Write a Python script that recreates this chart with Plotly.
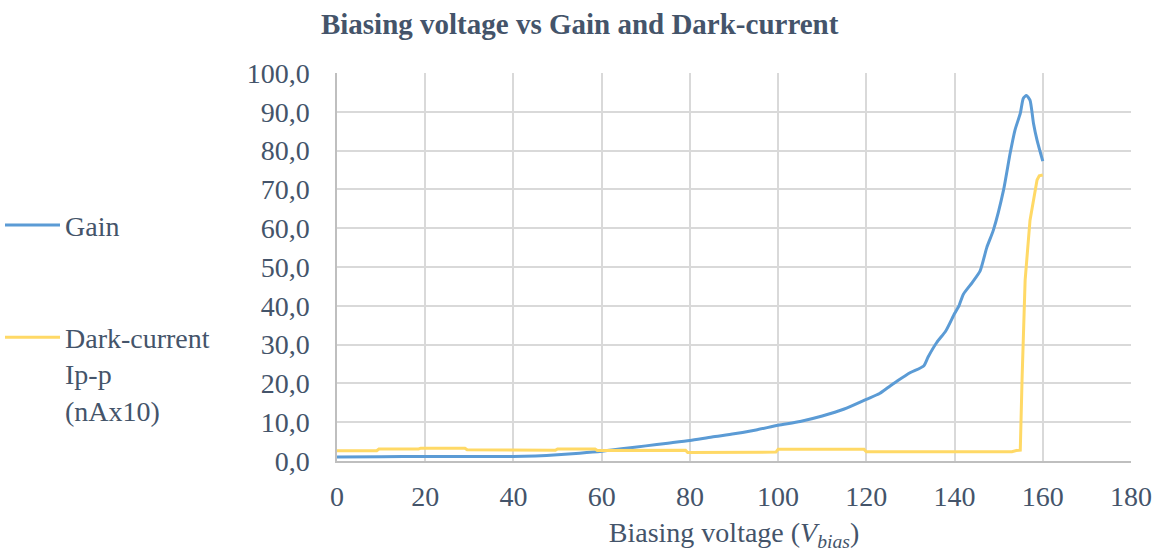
import plotly.graph_objects as go

gain_x = [0, 10, 20, 30, 40, 45, 50, 55, 60, 65, 70, 75, 80, 85, 90, 95, 100, 105, 110, 115, 120,
          123, 125, 127, 130, 133, 134, 136, 138, 140, 141, 142, 144, 145.8, 147.3, 148.8, 151.1,
          152.6, 153.7, 154.9, 155.6, 156.3, 157.1, 157.9, 158.7, 160]
gain_y = [1.0, 1.1, 1.15, 1.15, 1.15, 1.3, 1.6, 2.0, 2.5, 3.2, 3.9, 4.6, 5.3, 6.2, 7.0, 8.0, 9.2, 10.2,
          11.6, 13.4, 15.9, 17.4, 19.0, 20.6, 22.8, 24.5, 26.8, 30.6, 33.5, 38.0, 40.0, 43.0, 46.0,
          49.0, 55.0, 59.5, 69.8, 79.3, 85.3, 89.6, 93.5, 94.2, 93.0, 87.0, 82.7, 77.3]

dark_x = [0, 9, 9.5, 18.5, 19, 29, 29.5, 39, 39.5, 49.5, 50, 58.5, 59, 69, 69.5, 79, 79.5, 89.5, 90,
          99.5, 100, 119.5, 120, 153, 154, 154.9, 155.3, 156, 157.1, 158.7, 159.2, 160]
dark_y = [2.65, 2.65, 3.1, 3.1, 3.3, 3.3, 2.9, 2.9, 2.75, 2.75, 3.1, 3.1, 2.7, 2.7, 2.8, 2.8, 2.2, 2.2,
          2.3, 2.3, 3.0, 3.0, 2.4, 2.4, 2.7, 2.8, 20.9, 46.6, 62.0, 72.4, 73.5, 73.7]

font_family = "Liberation Serif"
text_color = "#44546A"
fs = 28

fig = go.Figure()
fig.add_trace(go.Scatter(x=gain_x, y=gain_y, mode="lines", name="Gain",
                         line=dict(color="#5B9BD5", width=3, shape="spline", smoothing=0.6),
                         legend="legend", showlegend=True))
fig.add_trace(go.Scatter(x=dark_x, y=dark_y, mode="lines", name="Dark-current<br>Ip-p<br>(nAx10)",
                         line=dict(color="#FFD966", width=3), legend="legend2", showlegend=True))

legend_common = dict(xref="container", yref="container", x=0.0, xanchor="left",
                     bgcolor="rgba(0,0,0,0)", itemwidth=55,
                     font=dict(family=font_family, size=fs, color=text_color), valign="top")

fig.update_layout(
    width=1157, height=552,
    showlegend=True,
    paper_bgcolor="white", plot_bgcolor="white",
    separators=",.",
    margin=dict(l=337, r=26, t=73, b=91),
    font=dict(family=font_family, size=fs, color=text_color),
    title=dict(text="<b>Biasing voltage vs Gain and Dark-current</b>", xref="container", x=0.501,
               xanchor="center", yref="container", y=0.957, yanchor="middle",
               font=dict(family=font_family, size=29, color=text_color)),
    legend=dict(**legend_common, y=0.592, yanchor="middle"),
    legend2=dict(**legend_common, y=0.434, yanchor="top"),
    xaxis=dict(range=[0, 180], dtick=20, tick0=0, showgrid=True, gridcolor="#D9D9D9", gridwidth=1.5,
               showline=True, linecolor="#BFBFBF", linewidth=1.5, zeroline=False, automargin=False,
               ticks="outside", ticklen=10, tickcolor="rgba(0,0,0,0)", ticklabeloverflow="allow",
               tickfont=dict(size=fs, color=text_color),
               title=dict(text="Biasing voltage (<i>V</i><sub><i>bias</i></sub>)",
                          font=dict(size=fs, color=text_color), standoff=14)),
    yaxis=dict(range=[0, 100], dtick=10, tick0=0, tickformat=".1f", showgrid=True,
               gridcolor="#D9D9D9", gridwidth=1.5, showline=True, linecolor="#BFBFBF",
               linewidth=1.5, zeroline=False, automargin=False,
               ticks="outside", ticklen=20, tickcolor="rgba(0,0,0,0)",
               tickfont=dict(size=fs, color=text_color)),
)

fig.write_html("out.html", config={"displayModeBar": False},
               post_script="document.body.style.margin='0';")
